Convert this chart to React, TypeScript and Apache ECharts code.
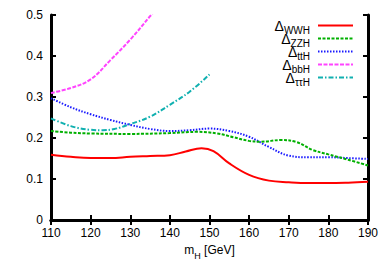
import React, { useEffect, useRef } from "react";
import * as echarts from "echarts";

const FONT = "Liberation Sans, Arial, sans-serif";

const seriesNames = ["WWH", "ZZH", "ttH", "bbH", "ττH"];
const seriesColors = ["#ff0000", "#00b000", "#1a1aff", "#ff44ff", "#10b0b0"];

const wwhMass = [110, 115, 120, 125, 130, 135, 140, 144, 148, 151, 155, 160, 165, 170, 175, 180, 185, 190];
const wwhVal = [0.159, 0.154, 0.151, 0.151, 0.154, 0.156, 0.158, 0.167, 0.175, 0.168, 0.138, 0.11, 0.096, 0.092, 0.09, 0.09, 0.091, 0.093];

const zzhMass = [110, 115, 120, 130, 140, 147, 152, 156, 160, 163, 168, 172, 176, 180, 185, 190];
const zzhVal = [0.217, 0.213, 0.211, 0.21, 0.212, 0.215, 0.211, 0.202, 0.193, 0.191, 0.195, 0.19, 0.171, 0.16, 0.147, 0.133];

const tthMass = [110, 115, 120, 125, 130, 135, 140, 145, 150, 155, 160, 165, 170, 175, 180, 185, 190];
const tthVal = [0.297, 0.275, 0.258, 0.244, 0.232, 0.222, 0.217, 0.219, 0.223, 0.217, 0.203, 0.178, 0.157, 0.153, 0.153, 0.151, 0.149];

const bbhMass = [110, 115, 120, 125, 130, 135, 137];
const bbhVal = [0.31, 0.322, 0.343, 0.39, 0.44, 0.497, 0.52];

const tautauMass = [110, 115, 120, 123, 126, 130, 135, 140, 145, 150];
const tautauVal = [0.248, 0.229, 0.22, 0.219, 0.222, 0.234, 0.252, 0.281, 0.313, 0.355];

const xTicks = [110, 120, 130, 140, 150, 160, 170, 180, 190];
const yTicks = [0, 0.1, 0.2, 0.3, 0.4, 0.5];

const dashes: (number[] | "solid")[] = ["solid", [3, 1.5], [1.5, 1.5], [4, 1.5], [5, 2, 1.5, 2]];

export default function App() {
  const ref = useRef<HTMLDivElement>(null);
  useEffect(() => {
    if (!ref.current) return;
    const chart = echarts.init(ref.current, undefined, { renderer: "svg" });
    const masses = [wwhMass, zzhMass, tthMass, bbhMass, tautauMass];
    const vals = [wwhVal, zzhVal, tthVal, bbhVal, tautauVal];

    const axisCommon = {
      type: "value" as const,
      axisLine: { show: true, lineStyle: { color: "#000", width: 3 } },
      axisTick: { show: true, inside: true, length: 5, lineStyle: { color: "#000", width: 2 } },
      splitLine: { show: false },
    };

    const legendGraphics: any[] = [];
    seriesNames.forEach((n, i) => {
      const y = 25.5 + i * 13;
      legendGraphics.push({
        type: "text",
        x: 310,
        y: y,
        style: {
          text: "{d|Δ}{s|" + n + "}",
          align: "right",
          verticalAlign: "middle",
          fill: "#000",
          rich: {
            d: { fontSize: 14, lineHeight: 12, height: 12, verticalAlign: "middle", fontFamily: FONT, fill: "#000" },
            s: { fontSize: 10, lineHeight: 2, height: 2, verticalAlign: "bottom", fontFamily: FONT, fill: "#000" },
          },
        },
      });
      legendGraphics.push({
        type: "line",
        shape: { x1: 318, y1: y, x2: 353, y2: y },
        style: {
          stroke: seriesColors[i],
          lineWidth: 2,
          lineDash: dashes[i] === "solid" ? null : dashes[i],
        },
      });
    });

    chart.setOption({
      animation: false,
      grid: { left: 51, right: 24, top: 15, bottom: 55, containLabel: false },
      xAxis: [
        {
          ...axisCommon,
          position: "bottom",
          min: 110,
          max: 190,
          interval: 10,
          axisLabel: { show: true, margin: 7, color: "#000", fontSize: 12, fontFamily: FONT },
          name: "{m|m}{h|H}{m| [GeV]}",
          nameLocation: "middle",
          nameGap: 20,
          nameTextStyle: {
            rich: {
              m: { fontSize: 12, lineHeight: 20, verticalAlign: "middle", fontFamily: FONT, color: "#000" },
              h: { fontSize: 9, lineHeight: 12, verticalAlign: "bottom", fontFamily: FONT, color: "#000" },
            },
          },
        },
        {
          ...axisCommon,
          position: "top",
          min: 110,
          max: 190,
          interval: 10,
          axisLabel: { show: false },
        },
      ],
      yAxis: [
        {
          ...axisCommon,
          position: "left",
          min: 0,
          max: 0.5,
          interval: 0.1,
          axisLabel: { show: true, margin: 8, color: "#000", fontSize: 12, fontFamily: FONT },
        },
        {
          ...axisCommon,
          position: "right",
          min: 0,
          max: 0.5,
          interval: 0.1,
          axisLabel: { show: false },
        },
      ],
      series: seriesNames.map((n, i) => ({
        name: n,
        type: "line",
        xAxisIndex: 0,
        yAxisIndex: 0,
        smooth: 0.4,
        symbol: "none",
        clip: true,
        z: 2 + (4 - i),
        data: masses[i].map((m, j) => [m, vals[i][j]]),
        lineStyle: {
          color: seriesColors[i],
          width: 2,
          type: dashes[i],
        },
      })),
      graphic: legendGraphics,
    });
    return () => chart.dispose();
  }, []);
  return (
    <div
      ref={ref}
      style={{ position: "fixed", left: 0, top: 0, width: 392, height: 275, background: "#fff" }}
    />
  );
}
